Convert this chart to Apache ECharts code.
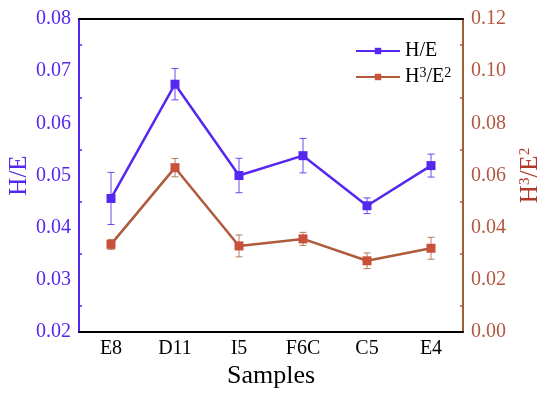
<!DOCTYPE html>
<html><head><meta charset="utf-8">
<script src="https://cdn.jsdelivr.net/npm/echarts@6/dist/echarts.min.js"></script>
<style>html,body{margin:0;padding:0;background:#fff}#c{width:550px;height:394px}</style>
</head><body><div id="c"></div>
<script>
const categories = ['E8','D11','I5','F6C','C5','E4'];
const heValues = [0.0456, 0.0675, 0.0500, 0.0538, 0.0442, 0.0519];
const heErrors = [0.0050, 0.0030, 0.0033, 0.0033, 0.0015, 0.0022];
const h3e2Values = [0.0336, 0.0630, 0.0330, 0.0357, 0.0273, 0.0321];
const h3e2Errors = [0.0019, 0.0035, 0.0042, 0.0025, 0.0030, 0.0042];
const leftTicks = {min: 0.02, max: 0.08, interval: 0.01};
const rightTicks = {min: 0.00, max: 0.12, interval: 0.02};

const purple = '#5627ee';
const brown = '#b05a3c';
const brownMark = '#c9513b';
const font = 'Liberation Serif';

function errData(vals, errs){ return vals.map((v,i)=>[i, v-errs[i], v+errs[i]]); }
function errRender(color){
  return function(params, api){
    const x = api.value(0);
    const lo = api.coord([x, api.value(1)]);
    const hi = api.coord([x, api.value(2)]);
    const w = 3.5;
    const st = {stroke: color, lineWidth: 1};
    return {type:'group', children:[
      {type:'line', shape:{x1:lo[0],y1:lo[1],x2:hi[0],y2:hi[1]}, style:st},
      {type:'line', shape:{x1:lo[0]-w,y1:lo[1],x2:lo[0]+w,y2:lo[1]}, style:st},
      {type:'line', shape:{x1:hi[0]-w,y1:hi[1],x2:hi[0]+w,y2:hi[1]}, style:st}
    ]};
  };
}

const chart = echarts.init(document.getElementById('c'));
chart.setOption({
  animation:false,
  grid:{left:79, right:87, top:19, bottom:62, outerBoundsMode:'none', containLabel:false},
  legend:{
    data:['H/E','H3/E2'], left:350, top:36, orient:'vertical',
    itemWidth:44, itemHeight:8, itemGap:5,
    textStyle:{fontFamily:font, fontSize:20, color:'#000',
      rich:{sup:{fontSize:14, verticalAlign:'top', padding:[0,0,8,0], fontFamily:font}}},
    formatter: n => n==='H3/E2' ? 'H{sup|3}/E{sup|2}' : n
  },
  xAxis:[
    {type:'category', data:categories, position:'bottom',
     name:'Samples', nameLocation:'middle', nameGap:31, nameMoveOverlap:false,
     nameTextStyle:{fontFamily:font, fontSize:26, color:'#000'},
     axisLine:{lineStyle:{color:'#000', width:2}},
     axisTick:{alignWithLabel:true, inside:true, length:5, lineStyle:{color:'#000', width:1.5}},
     axisLabel:{fontFamily:font, fontSize:20, color:'#000', margin:7}},
    {type:'category', data:categories, position:'bottom',
     axisLine:{show:false},
     axisTick:{inside:true, length:3, lineStyle:{color:'#000', width:1.5}},
     axisLabel:{show:false}},
    {type:'category', data:categories, position:'top',
     axisLine:{lineStyle:{color:'#000', width:2}},
     axisTick:{show:false}, axisLabel:{show:false}}
  ],
  yAxis:[
    {type:'value', position:'left', min:leftTicks.min, max:leftTicks.max, interval:leftTicks.interval,
     name:'H/E', nameLocation:'middle', nameGap:47, nameMoveOverlap:false,
     nameTextStyle:{fontFamily:font, fontSize:25, color:purple},
     axisLine:{show:true, lineStyle:{color:purple, width:2}},
     axisTick:{inside:true, length:5, lineStyle:{color:purple, width:1.5}},
     minorTick:{show:true, splitNumber:2, length:3, lineStyle:{color:purple, width:1.5}},
     splitLine:{show:false},
     axisLabel:{fontFamily:font, fontSize:20, color:purple, margin:8, formatter:v=>v.toFixed(2)}},
    {type:'value', position:'right', min:rightTicks.min, max:rightTicks.max, interval:rightTicks.interval,
     name:'H{sup|3}/E{sup|2}', nameLocation:'middle', nameGap:55, nameRotate:90, nameMoveOverlap:false,
     nameTextStyle:{fontFamily:font, fontSize:25, color:'#b33a2a',
       rich:{sup:{fontSize:15, fontFamily:font, color:'#b33a2a', padding:[0,0,10,0]}}},
     axisLine:{show:true, lineStyle:{color:'#a0603c', width:2}},
     axisTick:{inside:true, length:5, lineStyle:{color:'#a0603c', width:1.5}},
     minorTick:{show:true, splitNumber:2, length:3, lineStyle:{color:'#a0603c', width:1.5}},
     splitLine:{show:false},
     axisLabel:{fontFamily:font, fontSize:20, color:'#b5573f', margin:8, formatter:v=>v.toFixed(2)}}
  ],
  series:[
    {type:'custom', xAxisIndex:0, yAxisIndex:0, data:errData(heValues, heErrors),
     renderItem:errRender('#6a48f0'), z:3, silent:true},
    {type:'custom', xAxisIndex:0, yAxisIndex:1, data:errData(h3e2Values, h3e2Errors),
     renderItem:errRender('#b87a5c'), z:3, silent:true},
    {name:'H/E', type:'line', xAxisIndex:0, yAxisIndex:0, data:heValues,
     symbol:'rect', symbolSize:9, lineStyle:{color:purple, width:2.5},
     itemStyle:{color:purple}, z:4},
    {name:'H3/E2', type:'line', xAxisIndex:0, yAxisIndex:1, data:h3e2Values,
     symbol:'rect', symbolSize:9, lineStyle:{color:brown, width:2.5},
     itemStyle:{color:brownMark}, z:4}
  ]
});
</script></body></html>
